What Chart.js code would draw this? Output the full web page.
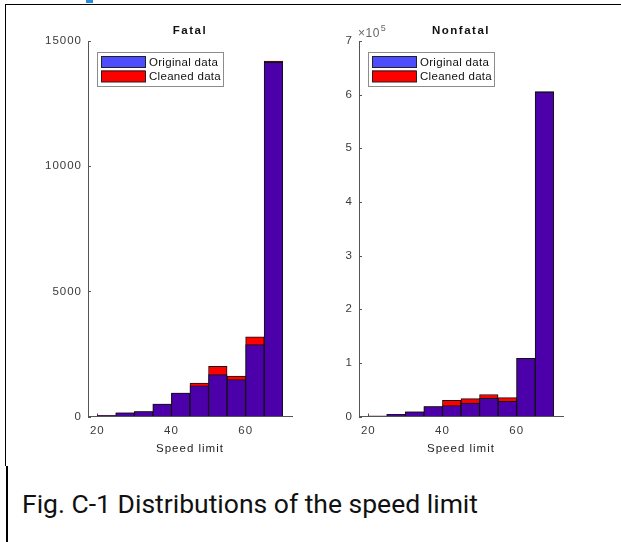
<!DOCTYPE html>
<html>
<head>
<meta charset="utf-8">
<script src="https://cdn.jsdelivr.net/npm/chart.js@4.4.1/dist/chart.umd.min.js"></script>
<style>
  body { margin: 0; background: #fff; }
  #page { position: relative; width: 621px; height: 542px; overflow: hidden; background: #fff; }
  canvas { position: absolute; top: 0; }
  #fatal { left: 0; }
  #nonfatal { left: 320px; }
  .line { position: absolute; background: #000; z-index: 2; }
  #caption {
    position: absolute; left: 22px; top: 488px;
    font-family: Roboto, "Noto Sans", sans-serif; font-size: 26.5px; color: #111;
    white-space: nowrap;
  }
</style>
</head>
<body>
<div id="page">
  <div class="line" style="left:86px;top:0;width:7px;height:3px;background:#2b8ad8"></div>
  <div class="line" style="left:5px;top:4px;width:616px;height:1px"></div>
  <div class="line" style="left:5px;top:4px;width:1px;height:462px"></div>
  <div class="line" style="left:6px;top:466px;width:2px;height:76px"></div>
  <canvas id="fatal" width="320" height="470"></canvas>
  <canvas id="nonfatal" width="300" height="470"></canvas>
  <div id="caption">Fig. C-1 Distributions of the speed limit</div>
</div>
<script>
// histogram bins (left edges, width 5)
const binStarts = [20, 25, 30, 35, 40, 45, 50, 55, 60, 65];
const binWidth = 5;
const speedTicks = [20, 40, 60];

const fatalOriginal = [40, 150, 200, 500, 940, 1230, 1670, 1470, 2870, 14150];
const fatalCleaned  = [40, 150, 200, 500, 940, 1340, 2000, 1610, 3180, 14200];
const fatalTicks = [0, 5000, 10000, 15000];

const nonfatalOriginal = [1000, 4000, 8700, 18600, 20400, 25000, 34000, 28500, 108500, 605000];
const nonfatalCleaned  = [1000, 4000, 8700, 18600, 30000, 33400, 41000, 35300, 108500, 605500];
const nonfatalTicks = [0, 100000, 200000, 300000, 400000, 500000, 600000, 700000];

const FONT = '"Liberation Sans", Arial, sans-serif';
const AXIS = '#555';
const TEXT = '#3a3a3a';

const toPoints = vals => vals.map((v, i) => ({ x: binStarts[i] + binWidth / 2, y: v }));

// MATLAB-like extras: spaced text, inward ticks, panel title, legend inside the axes
const matlabLook = {
  id: 'matlabLook',
  beforeDraw(chart) {
    chart.ctx.letterSpacing = '1px';
  },
  beforeDatasetsDraw(chart) {
    const { ctx, chartArea: a, scales } = chart;
    ctx.save();
    ctx.strokeStyle = AXIS;
    ctx.lineWidth = 1;
    ctx.beginPath();
    scales.y.ticks.forEach(t => {
      const y = Math.round(scales.y.getPixelForValue(t.value)) + 0.5;
      ctx.moveTo(a.left, y); ctx.lineTo(a.left + 3, y);
    });
    scales.x.ticks.forEach(t => {
      const x = Math.round(scales.x.getPixelForValue(t.value)) + 0.5;
      ctx.moveTo(x, a.bottom); ctx.lineTo(x, a.bottom - 3);
    });
    ctx.stroke();
    ctx.restore();
  },
  afterDraw(chart, args, opts) {
    const { ctx, chartArea: a } = chart;
    ctx.save();
    ctx.letterSpacing = '1.5px';
    ctx.fillStyle = '#111';
    ctx.font = 'bold 11.5px ' + FONT;
    ctx.textAlign = 'center';
    ctx.textBaseline = 'middle';
    ctx.fillText(opts.title, (a.left + a.right) / 2, a.top - 10);

    if (opts.exponent) {
      ctx.letterSpacing = '0.5px';
      ctx.fillStyle = '#666';
      ctx.textAlign = 'left';
      ctx.textBaseline = 'alphabetic';
      ctx.font = '12px ' + FONT;
      ctx.fillText('\u00d710', a.left - 1, a.top - 4);
      const w = ctx.measureText('\u00d710').width;
      ctx.font = '9px ' + FONT;
      ctx.fillText(opts.exponent, a.left - 1 + w + 1, a.top - 10);
    }

    // legend box
    const lx = a.left + 9, ly = a.top + 11, lw = 126, lh = 34;
    ctx.letterSpacing = '0.3px';
    ctx.fillStyle = '#fff';
    ctx.fillRect(lx, ly, lw, lh);
    ctx.strokeStyle = '#8c8c8c';
    ctx.lineWidth = 1;
    ctx.strokeRect(lx + 0.5, ly + 0.5, lw, lh);
    ctx.font = '11.5px ' + FONT;
    ctx.textAlign = 'left';
    ctx.textBaseline = 'middle';
    chart.data.datasets.forEach((ds, i) => {
      const sy = ly + 4 + i * 14.5;
      ctx.fillStyle = opts.legendColors[i];
      ctx.fillRect(lx + 4, sy, 44, 11.5);
      ctx.strokeStyle = '#222';
      ctx.strokeRect(lx + 4.5, sy + 0.5, 44, 11);
      ctx.fillStyle = '#111';
      ctx.fillText(ds.label, lx + 52, sy + 6.5);
    });
    ctx.restore();
  }
};

function makePanel(id, title, original, cleaned, yTicks, yFormat, exponent, pad) {
  return new Chart(document.getElementById(id), {
    type: 'bar',
    data: {
      datasets: [
        {
          label: 'Original data',
          data: toPoints(original),
          backgroundColor: '#4b00aa',
          borderColor: '#111',
          borderWidth: 1,
          grouped: false,
          order: 0
        },
        {
          label: 'Cleaned data',
          data: toPoints(cleaned),
          backgroundColor: '#ff0000',
          borderColor: '#111',
          borderWidth: 1,
          grouped: false,
          order: 1
        }
      ]
    },
    options: {
      responsive: false,
      animation: false,
      devicePixelRatio: 1,
      barPercentage: 1,
      categoryPercentage: 1,
      layout: { padding: { left: pad.left, right: pad.right, top: 41, bottom: 14.5 } },
      scales: {
        x: {
          type: 'linear',
          offset: false,
          min: 17.5,
          max: 72.5,
          afterBuildTicks: s => { s.ticks = speedTicks.map(v => ({ value: v })); },
          afterFit: s => { s.height = 39; },
          grid: { drawOnChartArea: false, drawTicks: false, offset: false },
          border: { color: AXIS, width: 1 },
          ticks: { padding: 7, color: TEXT, font: { family: FONT, size: 11.5 } },
          title: { display: true, text: 'Speed limit', color: '#222', padding: 0, font: { family: FONT, size: 11.5 } }
        },
        y: {
          min: 0,
          max: yTicks[yTicks.length - 1],
          afterBuildTicks: s => { s.ticks = yTicks.map(v => ({ value: v })); },
          afterFit: s => { s.width = pad.axis; },
          grid: { drawOnChartArea: false, drawTicks: false },
          border: { color: AXIS, width: 1 },
          ticks: { padding: 6, color: TEXT, font: { family: FONT, size: 11.5 }, callback: yFormat }
        }
      },
      plugins: {
        legend: { display: false },
        tooltip: { enabled: false },
        matlabLook: { title, exponent, legendColors: ['#4d4dff', '#ff0000'] }
      }
    },
    plugins: [matlabLook]
  });
}

makePanel('fatal', 'Fatal', fatalOriginal, fatalCleaned, fatalTicks,
  v => String(v), null, { left: 20, right: 28, axis: 68 });

makePanel('nonfatal', 'Nonfatal', nonfatalOriginal, nonfatalCleaned, nonfatalTicks,
  v => String(v / 100000), '5', { left: 9, right: 57, axis: 30 });
</script>
</body>
</html>
